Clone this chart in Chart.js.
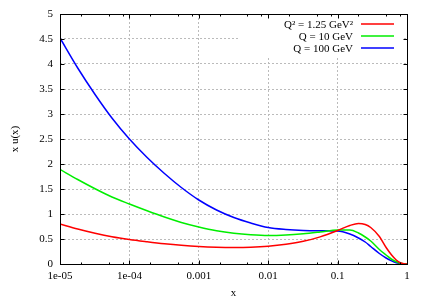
<!DOCTYPE html>
<html>
<head>
<meta charset="utf-8">
<script src="https://cdn.jsdelivr.net/npm/chart.js@4"></script>
<style>
  body { margin: 0; background: #fff; }
</style>
</head>
<body>
<canvas id="chart" width="428" height="300"></canvas>
<script>
// sample points along x (log scale)
const xs = [1e-5, 1.8e-5, 3.2e-5, 5.6e-5, 1e-4, 1.8e-4, 3.2e-4, 5.6e-4,
            1e-3, 1.8e-3, 3.2e-3, 5.6e-3, 0.01, 0.018, 0.032, 0.056,
            0.1, 0.15, 0.2, 0.25, 0.3, 0.4, 0.5, 0.6, 0.7, 0.8, 0.9, 1]

const q125 = [0.80, 0.70, 0.615, 0.545, 0.49, 0.445, 0.405, 0.373,
              0.348, 0.333, 0.328, 0.333, 0.353, 0.393, 0.453, 0.543,
              0.67, 0.77, 0.81, 0.79, 0.73, 0.55, 0.33, 0.18, 0.08, 0.025, 0.004, 0]
const q10 = [1.89, 1.69, 1.505, 1.34, 1.20, 1.065, 0.94, 0.83,
             0.74, 0.665, 0.615, 0.585, 0.57, 0.58, 0.605, 0.64,
             0.68, 0.68, 0.62, 0.54, 0.46, 0.29, 0.18, 0.095, 0.045, 0.015, 0.003, 0]
const q100 = [4.52, 3.92, 3.39, 2.92, 2.50, 2.13, 1.81, 1.53,
              1.28, 1.08, 0.93, 0.82, 0.73, 0.69, 0.67, 0.665,
              0.66, 0.60, 0.52, 0.44, 0.35, 0.21, 0.12, 0.062, 0.025, 0.01, 0.002, 0]

const seriesLabels = ['Q² = 1.25 GeV²', 'Q = 10 GeV', 'Q = 100 GeV']
const seriesColors = ['#ff0000', '#00ee00', '#0000ff']

const xTickValues = [1e-5, 1e-4, 1e-3, 1e-2, 1e-1, 1]
const xTickLabels = ['1e-05', '1e-04', '0.001', '0.01', '0.1', '1']
const minorMult = [2, 5, 8]

Chart.defaults.font.family = '"Liberation Serif", "Times New Roman", serif'
Chart.defaults.font.size = 11
Chart.defaults.color = '#000'

const toPts = ys => xs.map((x, i) => ({ x, y: ys[i] }))

// gnuplot-like frame, inside ticks and key
const frame = {
  id: 'frame',
  beforeDatasetsDraw(chart) {
    const { ctx, chartArea: a } = chart
    // opaque key box
    ctx.save()
    ctx.fillStyle = '#fff'
    ctx.fillRect(240, a.top + 1, a.right - 244, 41)
    ctx.restore()
  },
  afterDatasetsDraw(chart) {
    const { ctx, chartArea: a, scales } = chart
    const L = Math.round(a.left) + 0.5, R = Math.round(a.right) + 0.5
    const T = Math.round(a.top) + 0.5, B = Math.round(a.bottom) + 0.5
    ctx.save()
    ctx.strokeStyle = '#000'
    ctx.lineWidth = 1
    ctx.strokeRect(L, T, R - L, B - T)
    ctx.beginPath()
    scales.y.ticks.forEach(t => {
      const y = Math.round(scales.y.getPixelForValue(t.value)) + 0.5
      ctx.moveTo(L, y); ctx.lineTo(L + 4, y)
      ctx.moveTo(R, y); ctx.lineTo(R - 4, y)
    })
    xTickValues.forEach((v, i) => {
      const x = Math.round(scales.x.getPixelForValue(v)) + 0.5
      ctx.moveTo(x, B); ctx.lineTo(x, B - 4)
      ctx.moveTo(x, T); ctx.lineTo(x, T + 4)
      if (i < xTickValues.length - 1) {
        minorMult.forEach(m => {
          const xm = Math.round(scales.x.getPixelForValue(v * m)) + 0.5
          ctx.moveTo(xm, B); ctx.lineTo(xm, B - 2)
          ctx.moveTo(xm, T); ctx.lineTo(xm, T + 2)
        })
      }
    })
    ctx.stroke()

    // key
    ctx.font = Chart.helpers.toFont(Chart.defaults.font).string
    ctx.fillStyle = '#000'
    ctx.textAlign = 'right'
    ctx.textBaseline = 'middle'
    chart.data.datasets.forEach((ds, i) => {
      const y = 24 + i * 12
      ctx.fillText(ds.label, 353, y + 1)
      ctx.strokeStyle = ds.borderColor
      ctx.lineWidth = 1.5
      ctx.beginPath()
      ctx.moveTo(361, y); ctx.lineTo(394, y)
      ctx.stroke()
    })
    ctx.restore()
  }
}

new Chart(document.getElementById('chart'), {
  type: 'line',
  data: {
    datasets: [q125, q10, q100].map((ys, i) => ({
      label: seriesLabels[i],
      data: toPts(ys),
      borderColor: seriesColors[i],
      borderWidth: 1.5,
      pointRadius: 0,
      cubicInterpolationMode: 'monotone',
      fill: false
    }))
  },
  options: {
    responsive: false,
    animation: false,
    layout: { padding: { top: 14, right: 21, left: 0, bottom: 0 } },
    plugins: { legend: { display: false }, tooltip: { enabled: false } },
    scales: {
      x: {
        type: 'logarithmic',
        min: 1e-5,
        max: 1,
        afterBuildTicks: s => { s.ticks = xTickValues.map(value => ({ value })) },
        afterFit: s => { s.height = 36 },
        ticks: {
          autoSkip: false,
          maxRotation: 0,
          padding: 6,
          callback: (v, i) => xTickLabels[i]
        },
        grid: { color: '#bbb', drawTicks: false },
        border: { display: false, dash: [2, 2] },
        title: { display: true, text: 'x', padding: { top: 0, bottom: 0 } }
      },
      y: {
        min: 0,
        max: 5,
        afterFit: s => { s.width = 60 },
        ticks: { stepSize: 0.5, padding: 7, callback: v => String(v) },
        grid: { color: '#bbb', drawTicks: false },
        border: { display: false, dash: [2, 2] },
        title: { display: true, text: 'x u(x)', padding: { top: 9, bottom: 0 } }
      }
    }
  },
  plugins: [frame]
})
</script>
</body>
</html>
